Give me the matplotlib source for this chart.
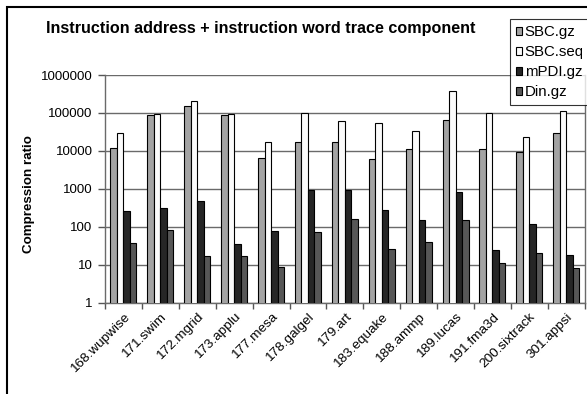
import numpy as np
import matplotlib
matplotlib.use('Agg')
import matplotlib.pyplot as plt
from matplotlib.patches import Rectangle

plt.rcParams['font.family'] = ['Liberation Sans', 'DejaVu Sans']

# Compression ratios per benchmark
categories = ['168.wupwise', '171.swim', '172.mgrid', '173.applu', '177.mesa',
              '178.galgel', '179.art', '183.equake', '188.ammp', '189.lucas',
              '191.fma3d', '200.sixtrack', '301.appsi']
sbc_gz = [12000, 87000, 150000, 87000, 6500, 17000, 17000, 6100, 11400, 66000, 11000, 9300, 30000]
sbc_seq = [29500, 92000, 205000, 92000, 17000, 98000, 63000, 55000, 33500, 370000, 98000, 23700, 110000]
mpdi_gz = [265, 318, 490, 35, 79, 930, 930, 278, 148, 810, 24, 117, 18.4]
din_gz = [37, 83, 17, 17, 8.7, 71, 158, 25.6, 39, 148, 11, 20.4, 8.4]

series = [('SBC.gz', sbc_gz, '#a3a3a3'),
          ('SBC.seq', sbc_seq, '#fbfbfb'),
          ('mPDI.gz', mpdi_gz, '#262626'),
          ('Din.gz', din_gz, '#575757')]

fig = plt.figure(figsize=(5.87, 3.94), dpi=100)
ax = fig.add_axes([0.1789, 0.2317, 0.8172, 0.5779])

x = np.arange(len(categories))
w = 0.176
for i, (name, vals, col) in enumerate(series):
    ax.bar(x + (i - 1.5) * w, vals, width=w, color=col, edgecolor='black',
           linewidth=0.8, label=name, zorder=3)

ax.set_yscale('log')
ax.set_ylim(1, 1e6)
ax.set_xlim(-0.5, len(categories) - 0.5)
ax.set_yticks([1, 10, 100, 1000, 10000, 100000, 1000000])
ax.set_yticklabels(['1', '10', '100', '1000', '10000', '100000', '1000000'])
ax.yaxis.set_minor_locator(matplotlib.ticker.NullLocator())
ax.yaxis.grid(True, color='#6a6a6a', linewidth=1, zorder=0)

ax.set_xticks(x)
ax.set_xticklabels(categories, rotation=45, ha='right', rotation_mode='anchor')
ax.set_xticks(np.arange(len(categories) + 1) - 0.5, minor=True)
ax.tick_params(axis='x', which='major', length=0, pad=6, labelsize=9.7)
ax.tick_params(axis='x', which='minor', length=4, width=1, color='#555555')
ax.tick_params(axis='y', length=5, width=1, color='#555555', pad=4, labelsize=9.5)

for s in ['left', 'bottom', 'right']:
    ax.spines[s].set_color('#6a6a6a')
    ax.spines[s].set_linewidth(1)
ax.spines['top'].set_visible(False)

fig.text(46 / 587, 1 - 29 / 394, 'Instruction address + instruction word trace component',
         fontsize=11.6, fontweight='bold', ha='left', va='center')
fig.text(29 / 587, 1 - 194 / 394, 'Compression ratio', fontsize=9.6,
         fontweight='bold', rotation=90, ha='center', va='center')

leg = fig.legend(loc='upper left', bbox_to_anchor=(509.7 / 587, 1 - 19.3 / 394),
                 fontsize=10.8, frameon=True, fancybox=False, shadow=False,
                 handlelength=0.4, handleheight=0.4, handletextpad=0.2,
                 labelspacing=0.4, borderpad=0.4, borderaxespad=0)
leg.get_frame().set_edgecolor('black')
leg.get_frame().set_linewidth(0.8)

# outer chart frame
fig.patches.append(Rectangle((7 / 587, -0.05), 1.1, 1 - 7 / 394 + 0.05,
                             transform=fig.transFigure, fill=False,
                             edgecolor='black', linewidth=1.5))

fig.savefig('out.png', dpi=100)
